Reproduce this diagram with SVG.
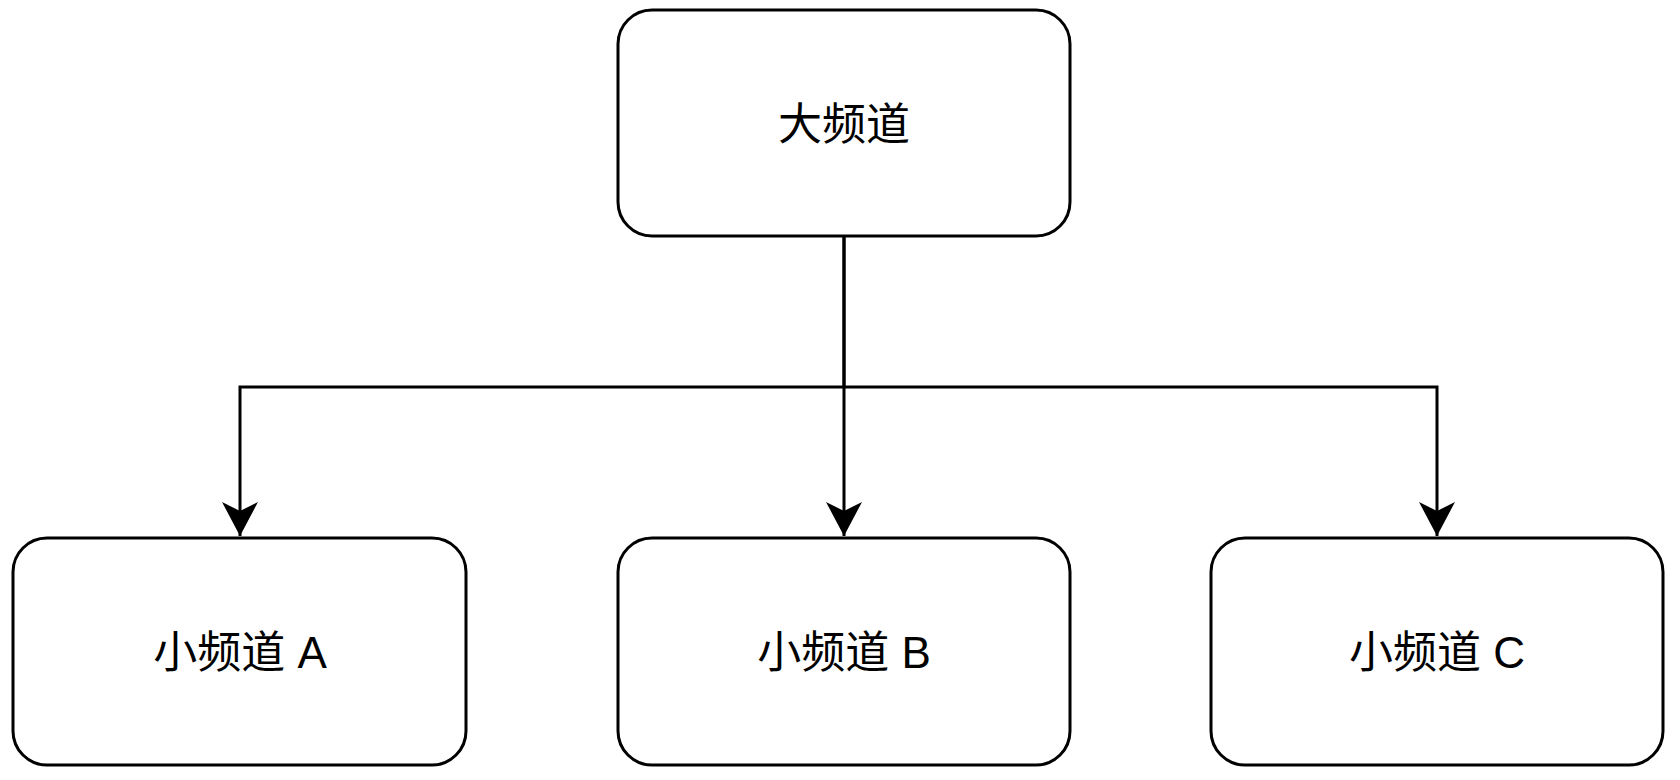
<svg xmlns="http://www.w3.org/2000/svg" width="1680" height="780" viewBox="0 0 1680 780">
<style>
.box{fill:#fff;stroke:#000;stroke-width:3}
.t{font-family:"Liberation Sans","Noto Sans CJK SC",sans-serif;font-size:44px;text-anchor:middle;dominant-baseline:central;fill:#000}
.c{fill:none;stroke:#000;stroke-width:3}
</style>
<defs><marker id="ar" markerUnits="userSpaceOnUse" markerWidth="36" markerHeight="38" refX="34" refY="18" orient="auto"><path d="M0,0 L34,18 L0,36 L9,18 Z" fill="#000"/></marker></defs>
<rect width="1680" height="780" fill="#fff"/>
<g id="connectors">
<path class="c" d="M844,236 V387 H240 V536" marker-end="url(#ar)"/>
<path class="c" d="M844,236 V536" marker-end="url(#ar)"/>
<path class="c" d="M844,387 H1437 V536" marker-end="url(#ar)"/>
</g>
<g id="top"><rect class="box" x="618" y="10" width="452" height="226" rx="34"/><text class="t" x="844" y="124">大频道</text></g>
<g id="a"><rect class="box" x="13" y="538" width="453" height="227" rx="34"/><text class="t" x="240" y="652">小频道 A</text></g>
<g id="b"><rect class="box" x="618" y="538" width="452" height="227" rx="34"/><text class="t" x="844" y="652">小频道 B</text></g>
<g id="c"><rect class="box" x="1211" y="538" width="452" height="227" rx="34"/><text class="t" x="1437" y="652">小频道 C</text></g>
</svg>
